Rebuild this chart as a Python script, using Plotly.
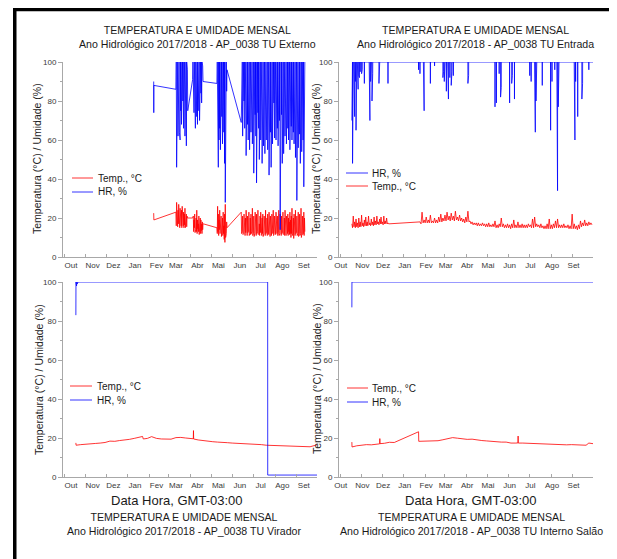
import pandas as pd
import plotly.graph_objects as go

# The page body keeps its default 8 px margin, so the figure is drawn 8 px
# smaller and every reference pixel position is shifted by that offset.
PAGE_OFF = 8
W, H = 617 - PAGE_OFF, 559 - PAGE_OFF

# ---------------- axis / label data ----------------
MONTH_LABELS = ["Out", "Nov", "Dez", "Jan", "Fev", "Mar", "Abr", "Mai", "Jun", "Jul", "Ago", "Set"]
MONTH_STARTS = ["2017-10-01", "2017-11-01", "2017-12-01", "2018-01-01", "2018-02-01", "2018-03-01",
                "2018-04-01", "2018-05-01", "2018-06-01", "2018-07-01", "2018-08-01", "2018-09-01"]
Y_TICKS = [0, 20, 40, 60, 80, 100]
Y_MINOR = [10, 30, 50, 70, 90]

TITLE_LINE = "TEMPERATURA E UMIDADE MENSAL"
SUBTITLES = ["Ano Hidrológico 2017/2018 - AP_0038 TU Externo",
             "Ano Hidrológico 2017/2018 - AP_0038 TU Entrada",
             "Ano Hidrológico 2017/2018 - AP_0038 TU Virador",
             "Ano Hidrológico 2017/2018 - AP_0038 TU Interno Salão"]
Y_TITLE = "Temperatura (°C) / Umidade (%)"
X_TITLE = "Data Hora, GMT-03:00"
NAME_T = "Temp., °C"
NAME_HR = "HR, %"

# ---------------- TU Externo ----------------
ext_hr_pre_dates = ["2018-02-07 00:00", "2018-02-07 03:00", "2018-02-07 06:00"]
ext_hr_pre = [90, 74, 88]
ext_t_pre_dates = ["2018-02-07 00:00", "2018-02-07 06:00"]
ext_t_pre = [22.5, 19.0]

# dense blocks sampled every 12 h
ext_block_starts = ["2018-03-11", "2018-04-04", "2018-05-09", "2018-06-13"]
ext_hr_A = [86, 100, 46, 100, 58, 100, 62, 100, 70, 100, 64, 100, 60, 100, 75, 100, 68, 100, 72, 100,
            80, 100, 66, 100, 74, 100, 62, 100, 78, 100, 57, 100, 70, 96, 75]
ext_hr_B = [91, 100, 80, 100, 74, 100, 70, 100, 66, 100, 78, 100, 72, 100, 68, 100, 75, 100, 82, 100,
            70, 100, 77, 100, 84, 100, 79, 100, 86, 98, 90]
ext_hr_C = [89, 100, 52, 100, 46, 100, 60, 100, 66, 100, 55, 100, 63, 100, 72, 100, 58, 100, 68, 100,
            64, 100, 48, 100, 28, 100, 60, 100, 85, 96]
ext_hr_D = [69, 100, 75, 100, 62, 100, 72, 100, 80, 100, 66, 100, 70, 100,
            52, 100, 74, 100, 68, 100, 60, 100, 78, 100, 55, 100, 71, 100,
            64, 100, 76, 100, 58, 100, 70, 100, 43, 100, 67, 100, 73, 100,
            62, 100, 38, 100, 56, 100, 74, 100, 66, 100, 50, 100, 72, 100,
            60, 100, 78, 100, 48, 100, 69, 100, 57, 100, 75, 100, 53, 100,
            70, 100, 60, 100, 77, 100, 55, 100, 66, 100, 42, 100, 72, 100,
            64, 100, 46, 100, 74, 100, 58, 100, 68, 100, 79, 100, 61, 100,
            72, 100, 60, 100, 76, 100, 66, 100, 57, 100, 78, 100, 70, 100,
            14, 100, 63, 100, 73, 100, 48, 100, 68, 100, 53, 100, 75, 100,
            62, 100, 70, 100, 58, 100, 76, 100, 66, 100, 60, 100, 72, 100,
            55, 100, 73, 100, 67, 100, 60, 100, 71, 100, 64, 100, 58, 100,
            74, 100, 51, 100, 66, 100, 29, 100, 70, 100, 56, 100, 77, 100,
            63, 100, 48, 100, 69, 100, 54, 100, 72, 100, 60, 100, 36, 100,
            80, 100]
ext_t_A = [23, 16, 28, 17, 26, 15.5, 24, 17, 27, 16, 22, 15, 25, 17.5, 21, 16, 24, 15, 26, 17,
           20, 16, 23, 15, 22, 16.5, 25, 15, 19, 16, 22, 15.5, 21, 20]
ext_t_B = [20, 14, 21, 13, 19, 15, 22, 12.5, 18, 14, 20, 13, 24, 12, 19, 14.5, 17, 13, 21, 11.5,
           18, 14, 20, 12, 19, 13.5, 17, 12, 18, 14, 17, 17]
ext_t_C = [15, 12, 26, 13, 22, 11, 19, 14, 24, 12, 18, 13, 21, 10.5, 17, 12, 20, 11, 23, 12,
           16, 9, 22, 7.5, 27, 10, 19, 12, 18, 15]
ext_t_D = [23, 12, 19, 13, 21, 11.5, 17, 12, 22, 13, 18, 11, 20, 12.5,
           24, 12, 18, 11, 21, 12.5, 19, 13, 23, 11, 17, 12, 20, 11.5,
           22, 12, 18, 13, 25, 11, 19, 12, 21, 10.5, 17, 12, 23, 12.5,
           19, 11, 22, 12, 18, 13, 24, 11.5, 20, 12, 17, 11, 21, 12.5,
           23, 12, 18, 11, 20, 12, 22, 10.5, 17, 12, 21, 13, 19, 11,
           24, 12, 18, 12.5, 20, 11, 22, 12, 17, 11.5, 23, 12, 19, 10.5,
           21, 12, 18, 11, 22, 12.5, 20, 12, 24, 11, 17, 12, 21, 13,
           19, 11.5, 23, 12, 18, 12, 21, 11, 20, 12.5, 24, 11, 18, 12,
           22, 13, 17, 11, 21, 12, 19, 12.5, 23, 11.5, 18, 12, 20, 11,
           24, 12, 19, 11, 21, 12.5, 17, 12, 22, 11, 20, 13, 18, 11.5,
           23, 12, 19, 10, 21, 12, 25, 11, 18, 12, 20, 9.5, 22, 12,
           17, 11, 24, 12, 19, 12.5, 21, 11, 18, 12, 23, 10.5, 20, 12,
           22, 11, 18, 12, 25, 10, 19, 12, 21, 11.5, 17, 12, 23, 11,
           20, 13]

# ---------------- TU Entrada ----------------
ent_hr_start = ("2017-10-18 00:00", 70)
ent_hr_end = ("2018-09-30 00:00", 100)
ent_hr_spike_dates = ["2017-10-18 08:00", "2017-10-19 00:00", "2017-10-19 12:00", "2017-10-20", "2017-10-21",
                      "2017-10-22", "2017-10-23", "2017-10-24", "2017-10-25", "2017-10-26", "2017-10-27",
                      "2017-10-28", "2017-10-29", "2017-10-30", "2017-11-01", "2017-11-02", "2017-11-05",
                      "2017-11-12", "2017-11-13", "2017-11-14", "2017-11-15", "2017-11-16", "2017-11-17",
                      "2017-11-26", "2017-11-27", "2017-12-09", "2018-01-22", "2018-01-24", "2018-01-29",
                      "2018-01-30", "2018-02-08", "2018-02-14", "2018-02-26", "2018-02-27", "2018-02-28",
                      "2018-03-01", "2018-03-03", "2018-03-05", "2018-03-06", "2018-03-08", "2018-03-10",
                      "2018-03-11", "2018-03-13", "2018-04-03", "2018-04-04", "2018-05-12", "2018-05-14",
                      "2018-05-18", "2018-05-20", "2018-05-21", "2018-06-02", "2018-06-05", "2018-06-06",
                      "2018-06-09", "2018-07-01", "2018-07-03", "2018-07-08", "2018-07-09", "2018-07-10",
                      "2018-07-11", "2018-07-19", "2018-07-31", "2018-08-02", "2018-08-06", "2018-08-09",
                      "2018-08-10", "2018-08-11", "2018-08-12", "2018-09-03", "2018-09-04", "2018-09-05",
                      "2018-09-08", "2018-09-14", "2018-09-15", "2018-09-24"]
ent_hr_spike_mins = [70, 48, 53, 75, 85, 72, 90, 65, 81, 88, 86,
                     93, 92, 95, 94, 96, 89,
                     81, 70, 90, 93, 80, 94,
                     89, 95, 89, 96, 94, 80,
                     75, 89, 98, 92, 95, 90,
                     94, 85, 91, 81, 92, 88,
                     95, 93, 89, 93, 77, 79,
                     94, 82, 87, 79, 89, 93,
                     81, 93, 90, 67, 64, 80,
                     93, 88, 65, 90, 96, 91,
                     34, 77, 93, 65, 60, 90,
                     72, 81, 89, 96]
ent_t_starts = ["2017-10-18", "2018-01-24"]
ent_t_1 = [17, 15, 21, 15.5, 18, 15, 19.5, 15.5, 17.5, 15, 20, 15.5,
           18, 15.5, 21.5, 16, 17.5, 15.5, 19, 16, 20.5, 16,
           18, 16, 21, 16.5, 17.5, 16, 19.5, 16.5, 18, 16, 20.5, 16.5, 18.5, 16.5,
           21, 17, 18, 16.5, 19.5, 17, 20.5, 17, 18, 16.5, 21, 17, 18.5, 17, 20, 17, 17.5, 17]
ent_t_2 = [18, 17, 23, 17.5, 19, 17.5, 20.5, 17.5,
           19, 17.5, 21.5, 17.5, 18.5, 17.5, 20, 17.5,
           19, 17.5, 20.5, 18, 22, 18, 20, 18.5,
           21.5, 18.5, 23, 19, 21, 18.5, 22.5, 19,
           21, 18.5, 23.5, 19, 20.5, 18.5, 21.5, 18.5,
           20, 18, 19.5, 17.5, 20.5, 18, 23.5, 18,
           18.5, 17, 18, 16.5, 17.5, 16.5, 17.5, 16,
           17.5, 16, 17, 16, 17.5, 16, 17, 15.5,
           17, 15.5, 17.5, 15.5, 16.5, 15.5, 17, 15.5,
           18.5, 15, 16.5, 15, 17, 15.5, 20, 15.5,
           17, 15, 16.5, 15, 17, 15, 16.5, 14.5,
           17, 15, 19, 15, 16.5, 15, 18, 15,
           16.5, 15, 17, 15, 16.5, 15, 16.5, 15,
           17, 15.5, 16.5, 15, 19.5, 15, 20.5, 15.5,
           17, 15.5, 16.5, 15, 17, 15, 16, 14.5,
           16, 14.5, 17, 14.5, 19.5, 14.5, 16.5, 14.5,
           17, 15, 18.5, 15, 19.5, 15, 16.5, 15,
           16.5, 15, 17, 15, 16, 15, 16.5, 14.5,
           16, 14.5, 22, 14.5, 17, 14.5, 16, 14,
           16.5, 14.5, 18.5, 15.5, 17.5, 16, 19, 16,
           17.5, 16, 18, 16.5, 17.5, 16.5]

# ---------------- TU Virador ----------------
vir_hr_dates = ["2017-10-18 00:00", "2017-10-18 04:00", "2017-10-19 00:00", "2017-10-19 12:00",
                "2017-10-20 00:00", "2017-10-21 00:00", "2017-10-22 00:00", "2018-07-21 00:00",
                "2018-07-21 02:00", "2018-09-30 00:00"]
vir_hr = [83, 100, 98, 100, 99, 100, 100, 100, 1, 1]
vir_t_dates = ["2017-10-18 00:00", "2017-10-18 08:00", "2017-10-25", "2017-11-01", "2017-11-08",
               "2017-11-15", "2017-11-22", "2017-11-29", "2017-12-06", "2017-12-13", "2017-12-20",
               "2017-12-27", "2018-01-03", "2018-01-10", "2018-01-17", "2018-01-22", "2018-01-23",
               "2018-01-29", "2018-02-04", "2018-02-11", "2018-02-18", "2018-02-25", "2018-03-04",
               "2018-03-11", "2018-03-18", "2018-03-25", "2018-04-01", "2018-04-05 00:00",
               "2018-04-05 06:00", "2018-04-05 12:00", "2018-04-12", "2018-04-19", "2018-04-26",
               "2018-05-03", "2018-05-10", "2018-05-17", "2018-05-24", "2018-05-31", "2018-06-07",
               "2018-06-14", "2018-06-21", "2018-06-28", "2018-07-05", "2018-07-12", "2018-07-19",
               "2018-07-26", "2018-08-02", "2018-08-09", "2018-08-16", "2018-08-23", "2018-08-30",
               "2018-09-06", "2018-09-13", "2018-09-20", "2018-09-27", "2018-09-30"]
vir_t = [17.5, 16.3, 16.6, 16.9, 17.0, 17.2, 17.4, 17.7, 18.4, 18.3, 18.7,
         18.9, 19.3, 19.8, 20.6, 20.8, 19.5, 19.8, 20.7, 19.8, 19.5, 19.3, 19.4,
         20.2, 20.3, 20.0, 19.8, 19.6, 23.8, 19.5, 19.0, 18.6, 18.4,
         18.1, 17.9, 17.9, 17.6, 17.4, 17.3, 17.2, 16.9, 16.9, 16.8, 16.6, 16.3,
         16.2, 16.0, 15.9, 16.0, 15.8, 15.9, 15.6, 15.6, 15.5, 16.2, 16.6]

# ---------------- TU Interno Salão ----------------
int_hr_dates = ["2017-10-18 00:00", "2017-10-18 03:00", "2018-09-30 00:00"]
int_hr = [87, 100, 100]
int_t_dates = ["2017-10-18 00:00", "2017-10-18 06:00", "2017-10-25", "2017-11-01", "2017-11-08",
               "2017-11-15", "2017-11-22", "2017-11-27 00:00", "2017-11-27 06:00", "2017-11-27 12:00",
               "2017-12-04", "2017-12-11", "2017-12-18", "2018-01-22 00:00", "2018-01-22 06:00",
               "2018-01-29", "2018-02-05", "2018-02-12", "2018-02-19", "2018-02-26", "2018-03-05",
               "2018-03-12", "2018-03-19", "2018-03-26", "2018-04-02", "2018-04-09", "2018-04-16",
               "2018-04-23", "2018-04-30", "2018-05-07", "2018-05-14", "2018-05-21", "2018-05-28",
               "2018-06-04", "2018-06-11", "2018-06-14 00:00", "2018-06-14 06:00", "2018-06-14 12:00",
               "2018-06-21", "2018-06-28", "2018-07-05", "2018-07-12", "2018-07-19", "2018-07-26",
               "2018-08-02", "2018-08-09", "2018-08-16", "2018-08-23", "2018-08-30", "2018-09-06",
               "2018-09-13", "2018-09-20", "2018-09-24", "2018-09-30"]
int_t = [17.9, 15.4, 16.0, 16.3, 16.6,
         16.5, 16.9, 17.0, 19.7, 17.1,
         17.3, 17.8, 17.7, 23.2, 18.3,
         18.4, 18.5, 18.5, 18.6, 19.1, 19.6,
         20.2, 19.9, 19.6, 19.3, 19.4, 18.9,
         18.7, 18.5, 18.2, 18.1, 17.9, 17.9,
         17.4, 17.4, 17.5, 21.0, 17.4,
         17.4, 17.3, 17.3, 17.1, 16.9, 16.8,
         16.6, 16.7, 16.6, 16.5, 16.6, 16.4,
         16.2, 16.3, 17.4, 17.1]


# ---------------- helpers ----------------
def fmt(ts):
    return pd.Timestamp(ts).strftime("%Y-%m-%d %H:%M")


def block(start, step_hours, values):
    t0 = pd.Timestamp(start)
    return [fmt(t0 + pd.Timedelta(hours=step_hours * i)) for i in range(len(values))], list(values)


def spikes(start, end, dates, mins):
    xs, ys = [fmt(start[0])], [start[1]]
    for d, m in zip(dates, mins):
        t = pd.Timestamp(d)
        xs += [fmt(t - pd.Timedelta(hours=2)), fmt(t), fmt(t + pd.Timedelta(hours=2))]
        ys += [100, m, 100]
    xs.append(fmt(end[0]))
    ys.append(end[1])
    return xs, ys


def concat(*parts):
    xs, ys = [], []
    for x, y in parts:
        xs += list(x)
        ys += list(y)
    return xs, ys


ext_hr_x, ext_hr_y = concat((ext_hr_pre_dates, ext_hr_pre),
                            block(ext_block_starts[0], 12, ext_hr_A),
                            block(ext_block_starts[1], 12, ext_hr_B),
                            block(ext_block_starts[2], 12, ext_hr_C),
                            block(ext_block_starts[3], 12, ext_hr_D))
ext_t_x, ext_t_y = concat((ext_t_pre_dates, ext_t_pre),
                          block(ext_block_starts[0], 12, ext_t_A),
                          block(ext_block_starts[1], 12, ext_t_B),
                          block(ext_block_starts[2], 12, ext_t_C),
                          block(ext_block_starts[3], 12, ext_t_D))
ent_hr_x, ent_hr_y = spikes(ent_hr_start, ent_hr_end, ent_hr_spike_dates, ent_hr_spike_mins)
ent_t_x, ent_t_y = concat(block(ent_t_starts[0], 24, ent_t_1), block(ent_t_starts[1], 36, ent_t_2))

RED = "#ff0000"
BLUE = "#0000ff"
LW = 0.8


def px(x):
    return (x - PAGE_OFF) / W


def py(y):
    return 1 - (y - PAGE_OFF) / H


fig = go.Figure()
panels = [
    ("", [(NAME_T, ext_t_x, ext_t_y, RED), (NAME_HR, ext_hr_x, ext_hr_y, BLUE)]),
    ("2", [(NAME_HR, ent_hr_x, ent_hr_y, BLUE), (NAME_T, ent_t_x, ent_t_y, RED)]),
    ("3", [(NAME_T, vir_t_dates, vir_t, RED), (NAME_HR, vir_hr_dates, vir_hr, BLUE)]),
    ("4", [(NAME_T, int_t_dates, int_t, RED), (NAME_HR, int_hr_dates, int_hr, BLUE)]),
]
for suf, trs in panels:
    for name, x, y, col in trs:
        fig.add_trace(go.Scatter(x=x, y=y, mode="lines", name=name,
                                 line=dict(color=col, width=LW),
                                 xaxis="x" + suf, yaxis="y" + suf, showlegend=False,
                                 hoverinfo="skip"))

# geometry (reference pixels)
X_DOM = {"": (63, 317), "2": (339, 593), "3": (63, 317), "4": (339, 593)}
Y_DOM = {"": (62, 257), "2": (62, 257), "3": (282, 477), "4": (282, 477)}
LABEL_SHIFT = {"": 10, "2": 1, "3": 10, "4": 1}
AXC = "#a8a8a8"
TICKC = "#3a3a3a"
FONT = "'Liberation Sans', Arial, sans-serif"

layout = dict(
    width=W, height=H, margin=dict(l=0, r=0, t=0, b=0, autoexpand=False),
    paper_bgcolor="white", plot_bgcolor="white",
    font=dict(family=FONT, color="#222222"),
    showlegend=False,
)
for suf in ["", "2", "3", "4"]:
    x0, x1 = X_DOM[suf]
    y0, y1 = Y_DOM[suf]
    labpos = [fmt(pd.Timestamp(m) + pd.Timedelta(days=LABEL_SHIFT[suf])) for m in MONTH_STARTS]
    layout["xaxis" + suf] = dict(
        domain=[px(x0), px(x1)], anchor="y" + suf, type="date",
        range=["2017-09-29 12:00", "2018-09-30 00:00"],
        showline=True, linecolor=AXC, linewidth=1, showgrid=False, zeroline=False,
        tickmode="array", tickvals=labpos, ticktext=MONTH_LABELS, ticks="",
        tickfont=dict(size=8, color=TICKC), automargin=False,
        minor=dict(tickmode="array", tickvals=MONTH_STARTS, ticks="inside", ticklen=3,
                   tickcolor=AXC, showgrid=False),
    )
    layout["yaxis" + suf] = dict(
        domain=[py(y1), py(y0)], anchor="x" + suf, range=[0, 100],
        showline=True, linecolor=AXC, linewidth=1, showgrid=False, zeroline=False,
        tickmode="array", tickvals=Y_TICKS, ticks="outside", ticklen=4, tickcolor=AXC,
        tickfont=dict(size=8, color=TICKC), automargin=False,
        minor=dict(tickmode="array", tickvals=Y_MINOR, ticks="outside", ticklen=2,
                   tickcolor=AXC, showgrid=False),
    )

ann = []
shapes = []
TFS = 10.6
for (cx, cy, sub) in [(197, 37, SUBTITLES[0]), (476, 37, SUBTITLES[1]),
                      (184, 524, SUBTITLES[2]), (471, 524, SUBTITLES[3])]:
    ann.append(dict(x=px(cx), y=py(cy), text=TITLE_LINE + "<br>" + sub, showarrow=False,
                    xref="paper", yref="paper", xanchor="center", yanchor="middle",
                    font=dict(size=TFS, color="#1a1a1a")))
for cx in [177, 471]:
    ann.append(dict(x=px(cx), y=py(500), text=X_TITLE, showarrow=False, xref="paper", yref="paper",
                    xanchor="center", yanchor="middle", font=dict(size=13, color="#1a1a1a")))
for cx, cy in [(37, 159), (316, 159), (39, 380), (317, 379)]:
    ann.append(dict(x=px(cx), y=py(cy), text=Y_TITLE, showarrow=False, xref="paper", yref="paper",
                    textangle=-90, xanchor="center", yanchor="middle",
                    font=dict(size=10.5, color="#222222")))

# legends: (sample x0, sample x1, text x, y, name, colour)
legend_items = [
    (72, 93, 96, 178, NAME_T, RED), (72, 93, 96, 192, NAME_HR, BLUE),
    (346, 368, 370, 173, NAME_HR, BLUE), (346, 368, 370, 186, NAME_T, RED),
    (70, 92, 95, 386, NAME_T, RED), (70, 92, 95, 400, NAME_HR, BLUE),
    (347, 368, 370, 388, NAME_T, RED), (347, 368, 370, 402, NAME_HR, BLUE),
]
for sx0, sx1, tx, ly, name, col in legend_items:
    shapes.append(dict(type="line", xref="paper", yref="paper", x0=px(sx0), x1=px(sx1),
                       y0=py(ly), y1=py(ly), line=dict(color=col, width=LW)))
    ann.append(dict(x=px(tx), y=py(ly), text=name, showarrow=False, xref="paper", yref="paper",
                    xanchor="left", yanchor="middle", font=dict(size=10, color="#1a1a1a")))
layout["annotations"] = ann

# black frame on left and top edges
shapes += [
    dict(type="rect", xref="paper", yref="paper", x0=px(13), x1=px(16.5), y0=0, y1=1,
         fillcolor="black", line=dict(width=0), layer="above"),
    dict(type="rect", xref="paper", yref="paper", x0=px(13), x1=1, y0=1 - 3.2 / H, y1=1,
         fillcolor="black", line=dict(width=0), layer="above"),
]
layout["shapes"] = shapes

fig.update_layout(**layout)
fig.write_html("out.html", config={"displayModeBar": False})
